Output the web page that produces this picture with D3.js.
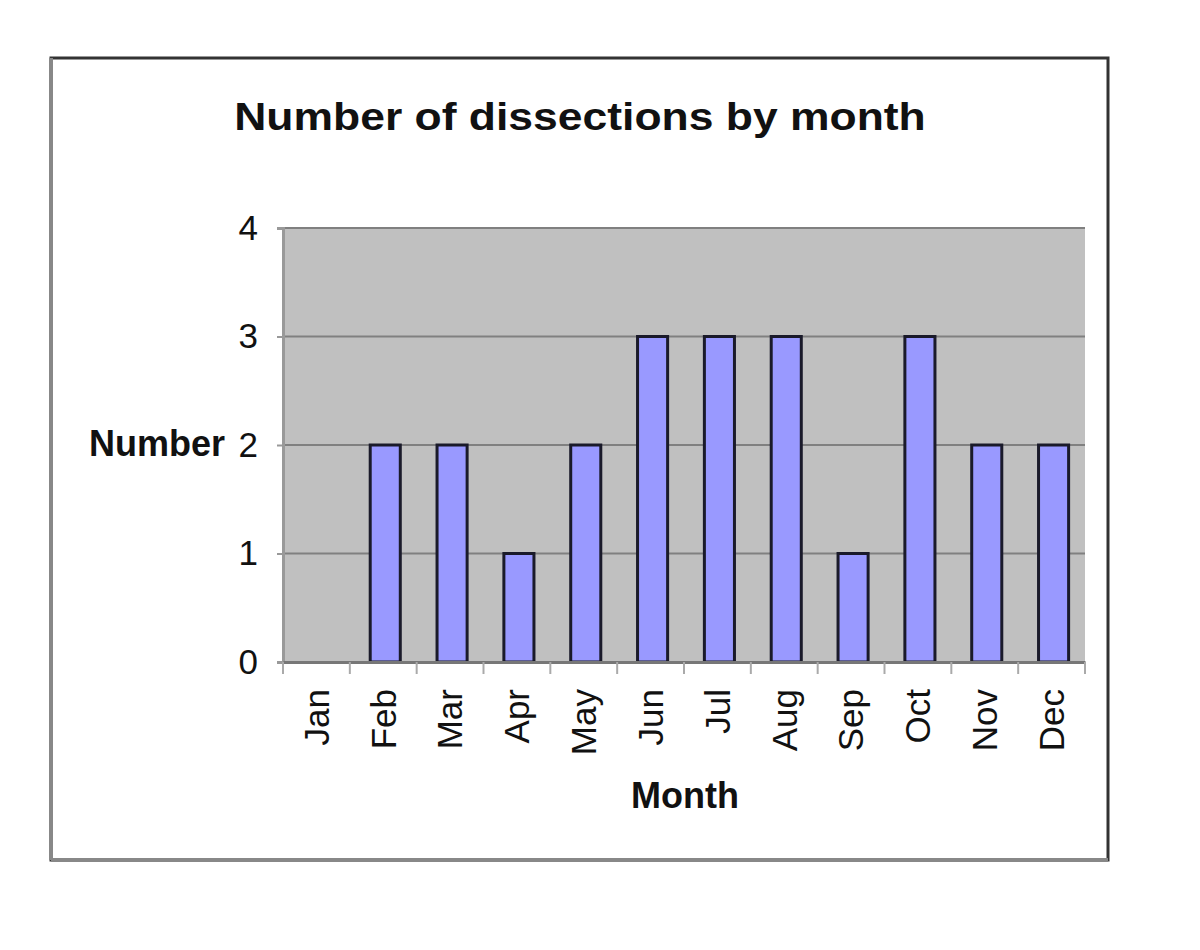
<!DOCTYPE html>
<html><head><meta charset="utf-8">
<script src="https://cdn.jsdelivr.net/npm/d3@7"></script>
<style>body{margin:0;background:#fff}</style>
</head><body>
<svg id="c" width="1200" height="950"></svg>
<script>
const months = ["Jan","Feb","Mar","Apr","May","Jun","Jul","Aug","Sep","Oct","Nov","Dec"];
const counts = [0,2,2,1,2,3,3,3,1,3,2,2];
const yTicks = [0,1,2,3,4];
const titleText = "Number of dissections by month";
const yLabel = "Number";
const xLabel = "Month";

const svg = d3.select("#c");
const font = "Liberation Sans, Arial, sans-serif";

// outer frame
svg.append("rect").attr("x",51).attr("y",58).attr("width",1057).attr("height",802)
  .attr("fill","#fff").attr("stroke","#333").attr("stroke-width",3);
svg.append("line").attr("x1",51).attr("x2",51).attr("y1",58).attr("y2",860).attr("stroke","#888").attr("stroke-width",4);
svg.append("line").attr("x1",51).attr("x2",1108).attr("y1",860).attr("y2",860).attr("stroke","#888").attr("stroke-width",4);

const L=283, R=1085, T=228, B=662;
const x = d3.scaleBand().domain(months).range([L,R]).paddingInner(0.55).paddingOuter(0.275);
const xb = d3.scaleBand().domain(months).range([L,R]);
const y = d3.scaleLinear().domain([0,4]).range([B,T]);

svg.append("rect").attr("x",L).attr("y",T).attr("width",R-L).attr("height",B-T).attr("fill","#c0c0c0");

// gridlines
svg.append("g").selectAll("line").data(yTicks.slice(1)).join("line")
  .attr("x1",L).attr("x2",R).attr("y1",d=>y(d)).attr("y2",d=>y(d))
  .attr("stroke","#808080").attr("stroke-width",2);

// bars
svg.append("g").selectAll("rect").data(months.map((m,i)=>({m,v:counts[i]})).filter(d=>d.v>0)).join("rect")
  .attr("x",d=>x(d.m)+2).attr("width",x.bandwidth())
  .attr("y",d=>y(d.v)).attr("height",d=>y(0)-y(d.v))
  .attr("fill","#9999ff").attr("stroke","#1a1a2a").attr("stroke-width",3);

// y axis
const ya = svg.append("g").attr("transform",`translate(${L},0)`)
  .call(d3.axisLeft(y).tickValues(yTicks).tickSize(6).tickPadding(19).tickFormat(d3.format("d")));
ya.select(".domain").attr("stroke","#999").attr("stroke-width",3);
ya.selectAll(".tick line").attr("stroke","#999").attr("stroke-width",2);
ya.selectAll("text").attr("font-family",font).attr("font-size",35).attr("fill","#111");

// x axis
const xa = svg.append("g").attr("transform",`translate(0,${B})`)
  .call(d3.axisBottom(xb).tickSize(0).tickPadding(0));
xa.select(".domain").attr("stroke","#777").attr("stroke-width",3);
xa.selectAll(".tick text")
  .attr("font-family",font).attr("font-size",35).attr("fill","#111")
  .attr("transform","translate(0,27) rotate(-90)")
  .attr("text-anchor","end").attr("dy","0.35em").attr("y",0).attr("x",0);
// category boundary ticks
svg.append("g").selectAll("line").data(months.concat(["_end"])).join("line")
  .attr("x1",(d,i)=>L+i*xb.bandwidth()).attr("x2",(d,i)=>L+i*xb.bandwidth())
  .attr("y1",B).attr("y2",B+12).attr("stroke","#aaa").attr("stroke-width",2);

// titles
svg.append("text").attr("transform","translate(580,130) scale(1.17,1)").attr("text-anchor","middle")
  .attr("font-family",font).attr("font-weight","bold").attr("font-size",38).attr("fill","#111").text(titleText);
svg.append("text").attr("x",225).attr("y",456).attr("text-anchor","end")
  .attr("font-family",font).attr("font-weight","bold").attr("font-size",36).attr("fill","#111").text(yLabel);
svg.append("text").attr("x",685).attr("y",808).attr("text-anchor","middle")
  .attr("font-family",font).attr("font-weight","bold").attr("font-size",36).attr("fill","#111").text(xLabel);
</script>
</body></html>
